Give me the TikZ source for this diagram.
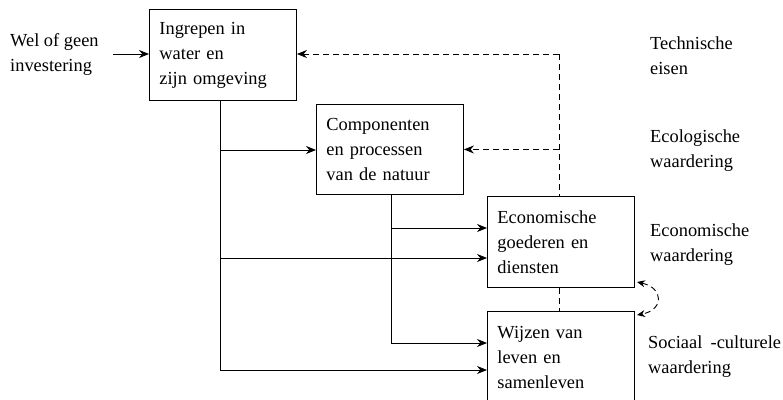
\documentclass[tikz,border=0pt]{standalone}
\usepackage{fontspec}
\setmainfont{Liberation Serif}
\usetikzlibrary{arrows.meta}
\begin{document}
\begin{tikzpicture}[x=1pt,y=-1pt,
  every node/.style={font=\fontsize{18.4}{25}\selectfont},
  box/.style={draw, line width=0.9pt, minimum width=147pt, text width=127pt,
    inner xsep=10pt, inner ysep=0pt, align=left, anchor=north west},
  lbl/.style={align=left, anchor=west, inner sep=0pt},
  conn/.style={line width=0.9pt},
  arr/.style={conn, -{Stealth[length=10pt,width=8pt]}},
  darr/.style={arr, dashed, dash pattern=on 6pt off 4pt},
  dline/.style={conn, dash pattern=on 6pt off 4pt}]
\clip (0,0) rectangle (783,399);

% blocks of the chain
\node[box, minimum height=91pt] (b1) at (149,9)
  {Ingrepen in\\water en\\zijn omgeving};
\node[box, minimum height=90pt] (b2) at (316,104)
  {Componenten\\en processen\\van de natuur};
\node[box, minimum height=91pt] (b3) at (487,196)
  {Economische\\goederen en\\diensten};
\node[box, minimum height=92pt] (b4) at (487,311)
  {Wijzen van\\leven en\\samenleven};

% side labels
\node[lbl] (inv) at (10,55) {Wel of geen\\investering};
\node[lbl] (tech) at (650,56) {Technische\\eisen};
\node[lbl] (eco) at (650,151) {Ecologische\\waardering};
\node[lbl] (econ) at (650,245) {Economische\\waardering};
\node[lbl] (soc) at (648,357) {Sociaal\hspace{0.45em}-culturele\\waardering};

% input
\coordinate (in) at (113,54);
\draw[arr] (in) -- (b1.west |- in);

% solid trunks
\coordinate (v1) at (220,0);
\coordinate (v2) at (391,0);
\draw[arr] (b1.south -| v1) |- (b4.west |- 0,370);
\draw[arr] (v1 |- 0,150) -- (b2.west |- 0,150);
\draw[arr] (v1 |- 0,258) -- (b3.west |- 0,258);
\draw[arr] (b2.south -| v2) |- (b4.west |- 0,343);
\draw[arr] (v2 |- 0,228) -- (b3.west |- 0,228);

% dashed feedback
\coordinate (fb) at (559,54);
\draw[dline] (fb) -- (fb |- b3.north);
\draw[darr] (fb) -- (b1.east |- fb);
\draw[darr] (fb |- b2.east) -- (b2.east);
\draw[dline] (fb |- b3.south) -- (fb |- b4.north);
\coordinate (ca) at (637,282);
\coordinate (cb) at (637,315);
\draw[darr, {Stealth[length=8pt,width=7pt]}-{Stealth[length=8pt,width=7pt]}]
  (ca) .. controls (664,288) and (664,310) .. (cb);
\end{tikzpicture}
\end{document}
